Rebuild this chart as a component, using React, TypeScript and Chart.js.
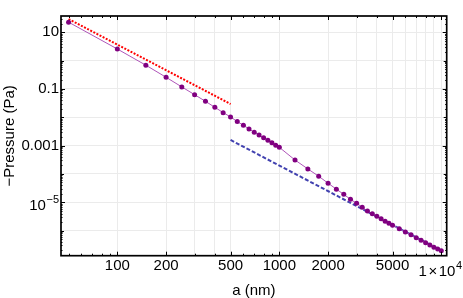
import React, { useEffect, useRef } from 'react';
import { Chart, registerables } from 'chart.js';

Chart.register(...registerables);

// Separation a (nm) and computed -pressure (Pa)
const separations = [
  50, 100, 150, 200, 250, 300, 350, 400, 450, 500,
  550, 600, 650, 700, 750, 800, 850, 900, 950, 1000,
  1250, 1500, 1750, 2000, 2250, 2500, 2750, 3000, 3250, 3500,
  3750, 4000, 4250, 4500, 4750, 5000,
  5500, 6000, 6500, 7000, 7500, 8000, 8500, 9000, 9500, 10000,
];
const pressures = [
  22.8, 2.57, 0.69, 0.258, 0.118, 0.0628, 0.0366, 0.0225, 0.0146, 0.0103,
  0.00705, 0.00521, 0.00388, 0.00296, 0.00235, 0.00189, 0.00154, 0.00126, 0.00104, 0.00087,
  3.1e-4, 1.5e-4, 8.3e-5, 4.7e-5, 2.9e-5, 1.9e-5, 1.27e-5, 9.2e-6, 6.7e-6, 4.95e-6,
  3.95e-6, 3.2e-6, 2.6e-6, 2.15e-6, 1.8e-6, 1.55e-6,
  1.17e-6, 9.0e-7, 7.1e-7, 5.6e-7, 4.55e-7, 3.75e-7, 3.1e-7, 2.6e-7, 2.25e-7, 1.95e-7,
];

// Short-distance asymptote (red dotted)
const shortRangeA = [50, 500];
const shortRangeP = [29.4, 0.0294];

// Long-distance asymptote (blue dashed)
const longRangeA = [500, 10000];
const longRangeP = [1.58e-3, 1.98e-7];

// Axes
const xMin = 44.9;
const xMax = 10796;
const yMin = 1.3e-7;
const yMax = 37.6;

const xGridValues = [100, 200, 300, 400, 500, 1000, 2000, 3000, 4000, 5000, 6000, 7000, 8000, 9000, 10000];
const xLabelValues = [100, 200, 500, 1000, 2000, 5000];
const xLabelTexts = ['100', '200', '500', '1000', '2000', '5000'];
// Label with a power of ten: mantissa, base, exponent
const xPowerLabelValue = 10000;
const xPowerLabelParts = ['1', '\u00d7', '10', '4'];
const xMajorTickValues = [100, 200, 500, 1000, 2000, 5000, 10000];
const xMinorTickValues = [50, 60, 70, 80, 90, 300, 400, 600, 700, 800, 900, 3000, 4000, 6000, 7000, 8000, 9000];

const yGridValues = [1e-6, 1e-5, 1e-4, 1e-3, 1e-2, 1e-1, 1, 10];
const yLabelValues = [10, 0.1, 0.001];
const yLabelTexts = ['10', '0.1', '0.001'];
const yPowerLabelValue = 1e-5;
const yPowerLabelParts = ['10', '\u22125'];
const yMajorTickValues = [10, 0.1, 0.001, 1e-5];
const yMidTickValues = [1e-6, 1e-4, 1e-2, 1];

const FONT = '"Liberation Sans", Arial, Helvetica, sans-serif';

const sameLog = (a: number, b: number) => Math.abs(Math.log10(a) - Math.log10(b)) < 1e-6;

const framePlugin = {
  id: 'frameTicks',
  afterDatasetsDraw(chart: any) {
    const { ctx, chartArea } = chart;
    const { left, top, right, bottom } = chartArea;
    const xs = chart.scales.x;
    const ys = chart.scales.y;
    ctx.save();
    ctx.strokeStyle = '#000';
    ctx.lineWidth = 1;
    const seg = (x1: number, y1: number, x2: number, y2: number) => {
      ctx.beginPath();
      ctx.moveTo(x1, y1);
      ctx.lineTo(x2, y2);
      ctx.stroke();
    };
    const xTick = (v: number, len: number) => {
      const px = Math.round(xs.getPixelForValue(v)) + 0.5;
      if (px < left || px > right) return;
      seg(px, bottom, px, bottom - len);
      seg(px, top, px, top + len);
    };
    const yTick = (v: number, len: number) => {
      const py = Math.round(ys.getPixelForValue(v)) + 0.5;
      if (py < top || py > bottom) return;
      seg(left, py, left + len, py);
      seg(right, py, right - len, py);
    };
    xMajorTickValues.forEach((v) => xTick(v, 4));
    xMinorTickValues.forEach((v) => xTick(v, 2));
    yMajorTickValues.forEach((v) => yTick(v, 4));
    yMidTickValues.forEach((v) => yTick(v, 3));
    for (let e = -7; e <= 1; e++) {
      for (let k = 2; k <= 9; k++) yTick(k * Math.pow(10, e), 1.5);
    }
    ctx.lineWidth = 1.7;
    ctx.strokeRect(left, top, right - left, bottom - top);

    // Power-of-ten tick labels with real superscripts
    ctx.fillStyle = '#000';
    ctx.textBaseline = 'alphabetic';
    ctx.textAlign = 'left';
    const big = `15px ${FONT}`;
    const small = `11px ${FONT}`;

    // y label 10^-5
    {
      const py = ys.getPixelForValue(yPowerLabelValue);
      ctx.font = small;
      const wSup = ctx.measureText(yPowerLabelParts[1]).width;
      ctx.font = big;
      const wBase = ctx.measureText(yPowerLabelParts[0]).width;
      const xEnd = left - 2;
      ctx.fillText(yPowerLabelParts[0], xEnd - wSup - wBase - 0.5, py + 7.5);
      ctx.font = small;
      ctx.fillText(yPowerLabelParts[1], xEnd - wSup, py + 1);
    }

    // x label 1x10^4
    {
      const px = xs.getPixelForValue(xPowerLabelValue);
      ctx.font = big;
      const w1 = ctx.measureText(xPowerLabelParts[0]).width;
      const wx = ctx.measureText(xPowerLabelParts[1]).width;
      const w10 = ctx.measureText(xPowerLabelParts[2]).width;
      ctx.font = small;
      const wSup = ctx.measureText(xPowerLabelParts[3]).width;
      const gap = 1.5;
      const total = w1 + gap + wx + gap + w10 + 0.5 + wSup;
      let x0 = px - total / 2 - 1;
      const base = bottom + 20.5;
      ctx.font = big;
      ctx.fillText(xPowerLabelParts[0], x0, base);
      x0 += w1 + gap;
      ctx.fillText(xPowerLabelParts[1], x0, base);
      x0 += wx + gap;
      ctx.fillText(xPowerLabelParts[2], x0, base);
      x0 += w10 + 0.5;
      ctx.font = small;
      ctx.fillText(xPowerLabelParts[3], x0, base - 7.5);
    }
    ctx.restore();
  },
};

export default function App() {
  const canvasRef = useRef<HTMLCanvasElement | null>(null);

  useEffect(() => {
    document.body.style.margin = '0';
    const canvas = canvasRef.current;
    if (!canvas) return;

    const chart = new Chart(canvas, {
      type: 'scatter',
      data: {
        datasets: [
          {
            label: 'pressure',
            data: separations.map((a, i) => ({ x: a, y: pressures[i] })),
            showLine: true,
            borderColor: 'rgb(175, 85, 185)',
            borderWidth: 1,
            backgroundColor: 'rgb(128, 0, 128)',
            pointBackgroundColor: 'rgb(128, 0, 128)',
            pointBorderWidth: 0,
            pointRadius: 2.5,
            order: 0,
          },
          {
            label: 'short',
            data: shortRangeA.map((a, i) => ({ x: a, y: shortRangeP[i] })),
            showLine: true,
            borderColor: 'rgb(255, 0, 0)',
            borderWidth: 2,
            borderDash: [2, 1.5],
            pointRadius: 0,
            order: 1,
          },
          {
            label: 'long',
            data: longRangeA.map((a, i) => ({ x: a, y: longRangeP[i] })),
            showLine: true,
            borderColor: 'rgb(66, 66, 176)',
            borderWidth: 2,
            borderDash: [4, 2],
            pointRadius: 0,
            order: 2,
          },
        ],
      },
      options: {
        responsive: false,
        animation: false,
        events: [],
        layout: { padding: { top: 16, right: 16.3, left: 0, bottom: 0 } },
        plugins: {
          legend: { display: false },
          tooltip: { enabled: false },
        },
        scales: {
          x: {
            type: 'logarithmic',
            position: 'bottom',
            min: xMin,
            max: xMax,
            afterBuildTicks: (scale: any) => {
              scale.ticks = xGridValues.map((v) => ({ value: v }));
            },
            afterFit: (scale: any) => {
              scale.height = 298 - 255.7;
            },
            grid: { color: '#ebebeb', lineWidth: 1, drawTicks: false },
            border: { display: false },
            ticks: {
              autoSkip: false,
              maxRotation: 0,
              minRotation: 0,
              padding: 1,
              color: '#000',
              font: { family: FONT, size: 15 },
              callback: (value: any) => {
                const idx = xLabelValues.findIndex((v) => sameLog(v, Number(value)));
                return idx >= 0 ? xLabelTexts[idx] : '';
              },
            },
            title: {
              display: true,
              text: 'a (nm)',
              color: '#000',
              font: { family: FONT, size: 15, lineHeight: 1.0 },
              padding: { top: 0, bottom: 0 },
            },
          },
          y: {
            type: 'logarithmic',
            position: 'left',
            min: yMin,
            max: yMax,
            afterBuildTicks: (scale: any) => {
              scale.ticks = yGridValues.map((v) => ({ value: v }));
            },
            afterFit: (scale: any) => {
              scale.width = 61;
            },
            grid: { color: '#ebebeb', lineWidth: 1, drawTicks: false },
            border: { display: false },
            ticks: {
              autoSkip: false,
              padding: 2,
              color: '#000',
              font: { family: FONT, size: 15 },
              callback: (value: any) => {
                const idx = yLabelValues.findIndex((v) => sameLog(v, Number(value)));
                return idx >= 0 ? yLabelTexts[idx] : '';
              },
            },
            title: {
              display: true,
              text: '\u2212Pressure (Pa)',
              color: '#000',
              font: { family: FONT, size: 15, lineHeight: 1.0 },
              padding: { top: 2, bottom: 0 },
            },
          },
        },
      },
      plugins: [framePlugin],
    });

    return () => {
      chart.destroy();
    };
  }, []);

  return (
    <div style={{ width: 463, height: 298, background: '#fff' }}>
      <canvas ref={canvasRef} width={463} height={298} style={{ display: 'block' }} />
    </div>
  );
}
